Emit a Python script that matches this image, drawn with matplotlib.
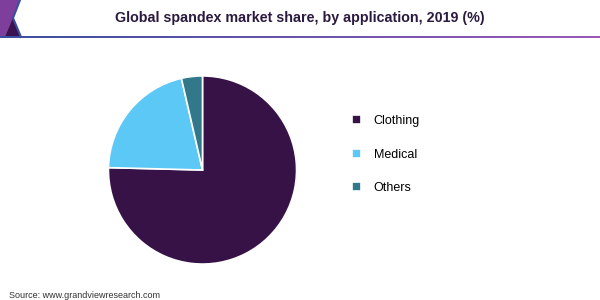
import numpy as np
import matplotlib.pyplot as plt
from matplotlib.patches import Polygon
from matplotlib.colors import LinearSegmentedColormap

# data
categories = ['Clothing', 'Medical', 'Others']
shares = [75.4, 21.0, 3.6]
colors = ['#371247', '#5BC8F5', '#31788A']

title = 'Global spandex market share, by application, 2019 (%)'
source = 'Source: www.grandviewresearch.com'

plt.rcParams['font.family'] = ['Liberation Sans', 'DejaVu Sans']

fig = plt.figure(figsize=(6, 3), dpi=100)
fig.patch.set_facecolor('white')

# header: logo corner + gradient rule
deco = fig.add_axes([0, 0, 1, 1], zorder=0)
deco.set_xlim(0, 600)
deco.set_ylim(300, 0)
deco.axis('off')

deco.add_patch(Polygon([(0, 0), (20, 0), (13, 18), (21, 37), (0, 37)],
                       closed=True, fc='#7E3F9C', ec='none'))
deco.add_patch(Polygon([(13, 18), (21, 37), (5, 37)], closed=True,
                       fc='#3A1250', ec='none'))
deco.plot([20, 13, 21], [0, 18, 37], color='#3A4FA0', lw=1.5,
          solid_joinstyle='miter')

grad = np.linspace(0, 1, 256).reshape(1, -1)
cmap = LinearSegmentedColormap.from_list('hdr', ['#3A4FA0', '#9B59B6'])
deco.imshow(grad, cmap=cmap, aspect='auto', extent=(0, 600, 38.5, 36.5),
            zorder=1)

fig.text(0.5, 1 - 18 / 300, title, ha='center', va='center',
         fontsize=10.3, fontweight='bold', color='#2B1A3F')
fig.text(9 / 600, 1 - 295 / 300, source, ha='left', va='center',
         fontsize=6.5, color='#333333')

# pie
ax = fig.add_axes([107.5 / 600, 35 / 300, 190 / 600, 190 / 300], zorder=2)
wedges, _ = ax.pie(shares, colors=colors, startangle=90, counterclock=False,
                   wedgeprops=dict(edgecolor='white', linewidth=1.2))
ax.set_xlim(-1.01, 1.01)
ax.set_ylim(-1.01, 1.01)
ax.set_aspect('equal')

fig.legend(wedges, categories, loc='upper left',
           bbox_to_anchor=(352 / 600, 1 - 115 / 300), frameon=False,
           fontsize=9, handlelength=0.75, handleheight=0.75,
           handletextpad=1.0, labelspacing=1.72, borderpad=0, borderaxespad=0)

fig.savefig('out.png', dpi=100, facecolor='white')
